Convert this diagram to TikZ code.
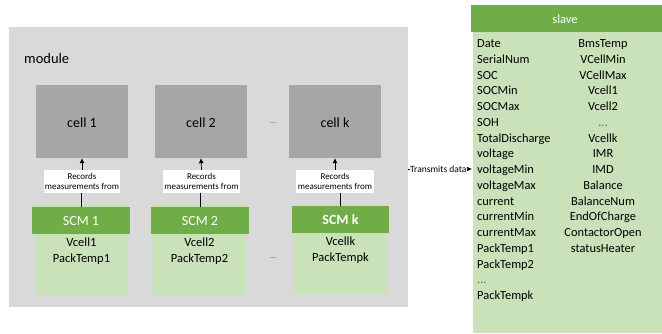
\documentclass[tikz,border=0pt]{standalone}
\usepackage{fontspec}
\setmainfont{Carlito}
\usetikzlibrary{arrows.meta}
\definecolor{modgray}{HTML}{D9D9D9}
\definecolor{cellgray}{HTML}{A6A6A6}
\definecolor{hdrgreen}{HTML}{70AD47}
\definecolor{bodygreen}{HTML}{C9E2B9}
\newcommand{\ellip}{{\color{black!60}...}}
\tikzset{
  cellbox/.style={fill=cellgray, minimum width=92pt, minimum height=73pt, inner sep=0pt},
  celltext/.style={font=\fontsize{14}{16}\selectfont, inner sep=0pt, anchor=base},
  recbox/.style={fill=white, minimum width=76pt, minimum height=23pt, inner sep=0pt, align=center, font=\fontsize{9}{10.5}\selectfont},
  scmhead/.style={fill=hdrgreen, minimum width=98pt, minimum height=27pt, inner sep=0pt},
  headtext/.style={text=white, font=\fontsize{14}{16}\selectfont, inner sep=0pt, anchor=base},
  scmbody/.style={fill=bodygreen, minimum width=93pt, minimum height=92pt, inner sep=0pt},
  bodytext/.style={font=\fontsize{12.5}{15}\selectfont, inner sep=0pt, anchor=base},
  listtext/.style={font=\fontsize{12.4}{15}\selectfont, inner sep=0pt},
  meas/.style={-{Latex[length=5pt,width=5pt]}, line width=0.7pt},
  link/.style={line width=0.7pt},
  dots/.style={font=\fontsize{8}{10}\selectfont, text=black!70}
}
\begin{document}
\begin{tikzpicture}[x=1pt,y=-1pt]
\useasboundingbox (0,0) rectangle (662,333);

% module frame
\fill[modgray] (9,27) rectangle (408,307);
\node[anchor=base west, font=\fontsize{14.5}{16}\selectfont, inner sep=0pt] (modlabel) at (24,63) {module};

% cells
\node[cellbox] (c1) at (82,121.5) {};
\node[cellbox] (c2) at (201,121.5) {};
\node[cellbox] (ck) at (335,121.5) {};
\node[celltext] (c1t) at (82,127) {cell 1};
\node[celltext] (c2t) at (201,127) {cell 2};
\node[celltext] (ckt) at (335,127) {cell k};
\node[dots] (cdots) at (273,123) {...};

% SCM bodies
\node[scmbody] (b1) at (81.5,250) {};
\node[scmbody] (b2) at (199.5,250) {};
\node[scmbody, minimum height=89pt] (bk) at (340.5,249.5) {};

% SCM headers
\node[scmhead] (s1) at (81,220.5) {};
\node[scmhead] (s2) at (200,220.5) {};
\node[scmhead, minimum width=97pt] (sk) at (340.5,219.5) {};
\node[headtext] (s1t) at (81,225.5) {SCM 1};
\node[headtext] (s2t) at (200,225.5) {SCM 2};
\node[headtext, font=\fontsize{14}{16}\selectfont\bfseries] (skt) at (340.5,224.5) {SCM k};

% SCM values
\node[bodytext] (v1a) at (81.5,246) {Vcell1};
\node[bodytext] (v1b) at (81.5,262) {PackTemp1};
\node[bodytext] (v2a) at (199.5,246) {Vcell2};
\node[bodytext] (v2b) at (199.5,262) {PackTemp2};
\node[bodytext] (vka) at (340.5,245) {Vcellk};
\node[bodytext] (vkb) at (340.5,261) {PackTempk};
\node[dots] (sdots) at (273,258) {...};

% "Records measurements from" labels
\node[recbox] (r1) at (82,181.5) {Records\\measurements from};
\node[recbox, minimum width=77pt] (r2) at (201.5,181.5) {Records\\measurements from};
\node[recbox, minimum width=78pt] (rk) at (335,181.5) {Records\\measurements from};

% connectors SCM -> label -> cell
\draw[link] (s1.north) -- (s1.north |- r1.south);
\draw[link] (s2.north) -- (s2.north |- r2.south);
\draw[link] (sk.north) -- (sk.north |- rk.south);
\draw[meas] (r1.north) -- (c1.south);
\draw[meas] (r2.north) -- (c2.south);
\draw[meas] (rk.north) -- (ck.south);

% slave
\fill[bodygreen] (473,32) rectangle (662,333);
\node[fill=hdrgreen, minimum width=191pt, minimum height=27pt, inner sep=0pt, anchor=north west] (slave) at (471,5) {};
\node[text=white, font=\fontsize{12.5}{15}\selectfont, inner sep=0pt, anchor=base] (slavet) at (565,23) {slave};

\foreach \t [count=\i from 0] in {Date,SerialNum,SOC,SOCMin,SOCMax,SOH,TotalDischarge,voltage,voltageMin,voltageMax,current,currentMin,currentMax,PackTemp1,PackTemp2,\ellip,PackTempk}
  \node[listtext, anchor=base west] (lf\i) at (477,47.5+15.75*\i) {\t};
\foreach \t [count=\i from 0] in {BmsTemp,VCellMin,VCellMax,Vcell1,Vcell2,\ellip,Vcellk,IMR,IMD,Balance,BalanceNum,EndOfCharge,ContactorOpen,statusHeater}
  \node[listtext, anchor=base] (rt\i) at (603,47.5+15.75*\i) {\t};

% data link module -> slave
\coordinate (txs) at (408,169);
\coordinate (txe) at (472,169);
\draw[-{Latex[length=5pt,width=4.5pt]}, line width=0.6pt] (txs) -- (txe);
\node[fill=white, inner sep=0.3pt, anchor=east, font=\fontsize{9.5}{10}\selectfont] (txlabel) at (467,169) {Transmits data};
\end{tikzpicture}
\end{document}
